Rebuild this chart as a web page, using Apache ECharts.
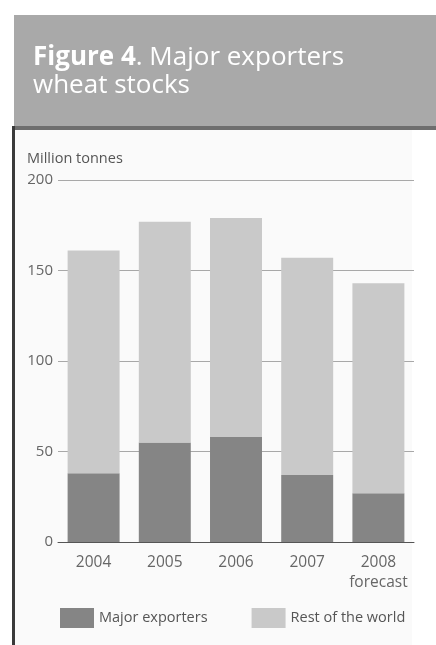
<!DOCTYPE html>
<html>
<head>
<meta charset="utf-8">
<script src="https://cdn.jsdelivr.net/npm/echarts@6/dist/echarts.min.js"></script>
<style>
  html, body { margin: 0; padding: 0; background: #ffffff; }
  #chart { width: 436px; height: 645px; }
</style>
</head>
<body>
<div id="chart"></div>
<script>
// Wheat stocks, million tonnes
const years = ['2004', '2005', '2006', '2007', '2008\nforecast'];
const majorExporters = [38, 55, 58, 37, 27];
const restOfWorld = [123, 122, 121, 120, 116];
const yTicks = [0, 50, 100, 150, 200];

const chart = echarts.init(document.getElementById('chart'));
const font = '"Open Sans", "Noto Sans", sans-serif';

chart.setOption({
  animation: false,
  backgroundColor: '#ffffff',
  textStyle: { fontFamily: font },
  graphic: [
    // title banner
    { type: 'rect', z: 0, shape: { x: 14, y: 15, width: 422, height: 111 }, style: { fill: '#a9a9a9' } },
    { type: 'rect', z: 0, shape: { x: 14, y: 126, width: 422, height: 4 }, style: { fill: '#6e6e6e' } },
    // chart panel
    { type: 'rect', z: -1, shape: { x: 14, y: 130, width: 398, height: 515 }, style: { fill: '#fafafa' } },
    { type: 'rect', z: 0, shape: { x: 12, y: 126, width: 3, height: 519 }, style: { fill: '#3a3a3a' } },
    // axis unit
    { type: 'text', z: 5, left: 27, top: 151, style: { text: 'Million tonnes', fill: '#555555', font: '14.5px ' + font } }
  ],
  title: {
    left: 28,
    top: 39,
    text: '{b|Figure 4}{n|. Major exporters}\n{n|wheat stocks}',
    textStyle: {
      rich: {
        b: { fontFamily: font, fontSize: 26, fontWeight: 'bold', color: '#ffffff', lineHeight: 28 },
        n: { fontFamily: font, fontSize: 26, fontWeight: 'normal', color: '#ffffff', lineHeight: 28 }
      }
    }
  },
  legend: {
    left: 55,
    top: 603,
    itemWidth: 34,
    itemHeight: 20,
    itemGap: 44,
    icon: 'rect',
    textStyle: { fontFamily: font, fontSize: 14.5, color: '#555555' },
    data: ['Major exporters', 'Rest of the world']
  },
  grid: { left: 58, right: 22, top: 180, bottom: 103 },
  xAxis: {
    type: 'category',
    data: years,
    axisLine: { lineStyle: { color: '#555555', width: 1 } },
    axisTick: { alignWithLabel: true, length: 4, lineStyle: { color: '#444444' } },
    axisLabel: { interval: 0, hideOverlap: false, color: '#666666', fontSize: 15.5, fontFamily: font, margin: 11, lineHeight: 20 }
  },
  yAxis: {
    type: 'value',
    min: yTicks[0],
    max: yTicks[yTicks.length - 1],
    interval: 50,
    axisLine: { show: false },
    axisTick: { show: false },
    axisLabel: { color: '#666666', fontSize: 15, fontFamily: font, margin: 5 },
    splitLine: { lineStyle: { color: '#a8a8a8', width: 1 } }
  },
  series: [
    {
      name: 'Major exporters',
      type: 'bar',
      stack: 'total',
      data: majorExporters,
      barCategoryGap: '27%',
      itemStyle: { color: '#858585' }
    },
    {
      name: 'Rest of the world',
      type: 'bar',
      stack: 'total',
      data: restOfWorld,
      itemStyle: { color: '#c9c9c9' }
    }
  ]
});
</script>
</body>
</html>
